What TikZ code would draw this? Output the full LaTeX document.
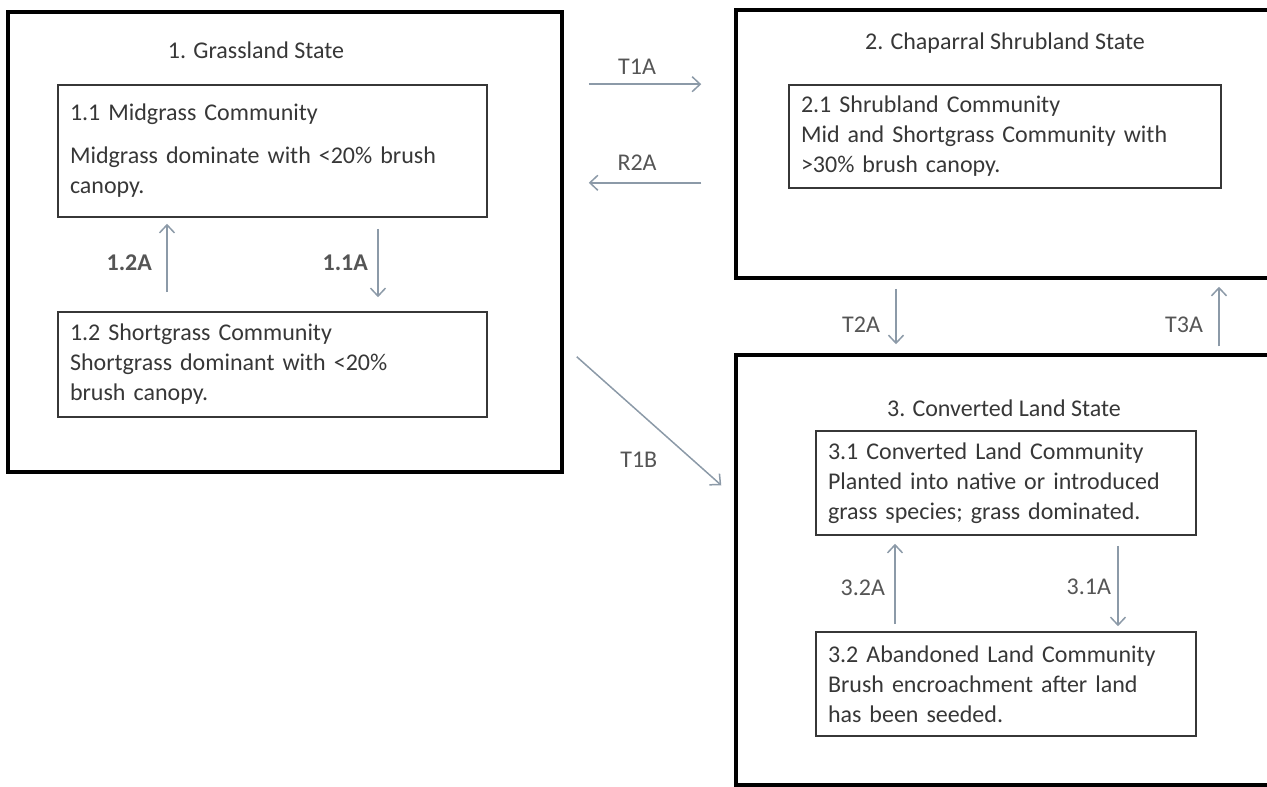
\documentclass[tikz,border=0pt]{standalone}
\usepackage{fontspec}
\setmainfont{Carlito}
\usetikzlibrary{arrows.meta,positioning}
\definecolor{arrowgray}{RGB}{140,154,168}
\definecolor{textgray}{RGB}{55,55,55}
\newcommand{\diagfont}{\fontsize{24}{30}\selectfont}
\tikzstyle{state}=[rectangle,draw=black,line width=3.5pt]
\tikzstyle{title}=[text=textgray]
\tikzstyle{community}=[rectangle,draw=textgray,line width=1.6pt,align=left,inner xsep=12pt,text=textgray]
\tikzstyle{trans}=[draw=arrowgray,line width=1.5pt,-{Straight Barb[length=8pt,width=15pt,line width=1.5pt]}]
\tikzstyle{translabel}=[text=textgray!85]
\tikzstyle{boldlabel}=[translabel,font=\diagfont\bfseries]

\begin{document}
\begin{tikzpicture}[x=1pt,y=-1pt,font=\diagfont]
	\path[use as bounding box] (0,0) rectangle (1267,787);
	\clip (0,0) rectangle (1267,787);

	% states and communities
	\node[state,minimum width=554pt,minimum height=460pt]	(grass)	at (285,242)	{};
	\node[title]	(grasstitle)	at (256,50)	{1. Grassland State};
	\node[community,text width=405pt,minimum height=132pt]
			(midgrass)	at (272.5,151)	{1.1 Midgrass Community\\[13pt]Midgrass dominate with <20\% brush\\canopy.};
	\node[community,text width=405pt,minimum height=105pt]
			(shortgrass)	at (272.5,364.5)	{1.2 Shortgrass Community\\Shortgrass dominant with <20\%\\brush canopy.};

	\node[state,minimum width=538pt,minimum height=268pt]	(chap)	at (1005,144)	{};
	\node[title]	(chaptitle)	at (1005,43)	{2. Chaparral Shrubland State};
	\node[community,text width=408pt,minimum height=103pt]
			(shrub)	at (1005,136.5)	{2.1 Shrubland Community\\Mid and Shortgrass Community with\\>30\% brush canopy.};

	\node[state,minimum width=538pt,minimum height=430pt]	(conv)	at (1005,570)	{};
	\node[title]	(convtitle)	at (1004,408)	{3. Converted Land State};
	\node[community,text width=356pt,minimum height=104pt]
			(convland)	at (1006,483)	{3.1 Converted Land Community\\Planted into native or introduced\\grass species; grass dominated.};
	\node[community,text width=356pt,minimum height=104pt]
			(abandon)	at (1006,684)	{3.2 Abandoned Land Community\\Brush encroachment after land\\has been seeded.};

	% transitions inside the states
	\draw[trans,shorten <=19pt,shorten >=6pt] ([xshift=-105.5pt]shortgrass.north) -- node[boldlabel,pos=0.52,left=11pt] {1.2A} ([xshift=-105.5pt]midgrass.south);
	\draw[trans,shorten <=11pt,shorten >=14pt] ([xshift=105.5pt]midgrass.south) -- node[boldlabel,pos=0.48,left=6pt] {1.1A} ([xshift=105.5pt]shortgrass.north);
	\draw[trans,shorten <=7pt,shorten >=8pt] ([xshift=-111pt]abandon.north) -- node[translabel,pos=0.46,left=6pt] {3.2A} ([xshift=-111pt]convland.south);
	\draw[trans,shorten <=10pt,shorten >=5pt] ([xshift=112pt]convland.south) -- node[translabel,pos=0.53,left=3pt] {3.1A} ([xshift=112pt]abandon.north);

	% transitions between the states
	\draw[trans,shorten <=25pt,shorten >=33pt] (grass.east |- midgrass.north) -- node[translabel,pos=0.43,yshift=17pt] {T1A} (chap.west |- midgrass.north);
	\draw[trans,shorten <=33pt,shorten >=25pt] ([yshift=6pt]chap.west |- shrub.south) -- node[translabel,pos=0.57,yshift=20pt] {R2A} ([yshift=6pt]grass.east |- shrub.south);
	\draw[trans,shorten <=9pt,shorten >=9pt] ([xshift=-109pt]chap.south) -- node[translabel,pos=0.61,left=12pt] {T2A} ([xshift=-109pt]conv.north);
	\draw[trans,shorten <=7pt,shorten >=7pt] ([xshift=214pt]conv.north) -- node[translabel,pos=0.39,left=12pt] {T3A} ([xshift=214pt]chap.south);
	\draw[trans] ([shift={(13pt,117pt)}]grass.south east) -- node[translabel,pos=0.8,left=31pt] {T1B} ([shift={(-13pt,-132pt)}]conv.north west);
\end{tikzpicture}
\end{document}
